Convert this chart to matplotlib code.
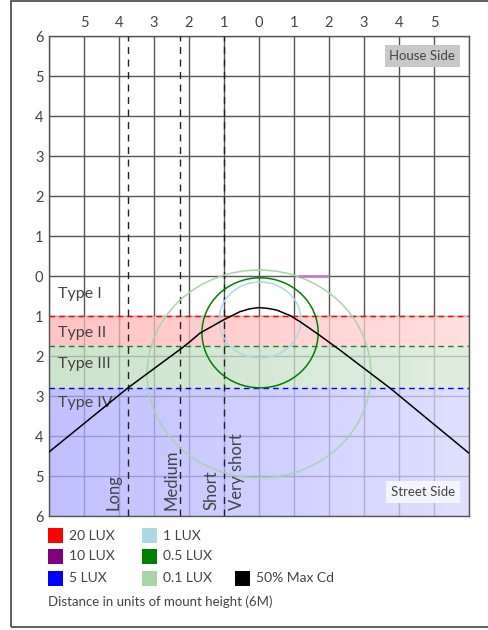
import numpy as np
import matplotlib
matplotlib.use("Agg")
import matplotlib.pyplot as plt
from matplotlib.patches import Ellipse, Rectangle
from matplotlib.colors import to_rgb

plt.rcParams["font.family"] = ["Lato", "DejaVu Sans"]

INK = "#444444"
GRID = "#555555"

# ── data ─────────────────────────────────────────────────────────────────────
# 50% max candela trace (x: lateral, y: negative = street side)
cd_x = [-6.0, -3.75, -2.17, -1.97, -1.69, -1.02, -0.54, -0.26, 0.0,
        0.25, 0.5, 0.89, 1.17, 1.68, 2.31, 3.74, 6.0]
cd_y = [-4.4, -2.8, -1.78, -1.64, -1.43, -1.1, -0.89, -0.82, -0.79,
        -0.81, -0.85, -0.99, -1.14, -1.45, -1.85, -2.8, -4.43]

# isolux contours: centre x, centre y, width, height
iso_labels = ["0.1 LUX", "0.5 LUX", "1 LUX"]
iso_cx = [0.0, 0.03, 0.03]
iso_cy = [-2.45, -1.42, -1.1]
iso_w = [6.4, 3.32, 2.34]
iso_h = [5.2, 2.75, 1.9]
iso_col = ["#a8d5a8", "#008000", "#add8e6"]

# 10 LUX shows as a short segment on the 0 line
lux10_x = [1.1, 2.0]
lux10_y = [0.0, 0.0]

# lateral light distribution bands (top, bottom)
band_names = ["Type I", "Type II", "Type III", "Type IV"]
band_top = [0.0, -1.0, -1.75, -2.8]
band_bot = [-1.0, -1.75, -2.8, -6.0]
band_line = [None, "#ff0000", "#2a7a2a", "#0000ff"]
band_left = [None, "#ffc4c4", "#cce4cc", "#c0c0ff"]
band_right = [None, "#ffe0e0", "#e0eee0", "#e0e0ff"]
band_text_y = [-0.45, -1.42, -2.2, -3.17]

# longitudinal classification boundaries
vert_x = [-3.75, -2.25, -1.0]
vert_names = ["Long", "Medium", "Short", "Very short"]
vert_text_x = [-4.15, -2.5, -1.35, -0.62]

ticks = list(range(-6, 7))

leg_labels = ["20 LUX", "10 LUX", "5 LUX", "1 LUX", "0.5 LUX", "0.1 LUX",
              "50% Max Cd"]
leg_colors = ["#ff0000", "#800080", "#0000ff", "#add8e6", "#008000",
              "#a8d5a8", "#000000"]
leg_col = [0, 0, 0, 1, 1, 1, 2]
leg_row = [0, 1, 2, 0, 1, 2, 2]

# ── figure ───────────────────────────────────────────────────────────────────
W, H = 489, 630
fig = plt.figure(figsize=(W / 100, H / 100), dpi=100)
ax = fig.add_axes([49 / W, 1 - 516 / H, 420 / W, 480 / H])
ax.set_xlim(-6, 6)
ax.set_ylim(-6, 6)

ax.set_xticks(ticks)
ax.set_yticks(ticks)
ax.xaxis.tick_top()
ax.set_xticklabels(["" if abs(t) == 6 else str(abs(t)) for t in ticks])
ax.set_yticklabels([str(abs(t)) for t in ticks])
ax.tick_params(length=0, labelsize=10.5, labelcolor=INK, pad=4)
ax.grid(True, color=GRID, lw=1.0, zorder=1)
ax.set_axisbelow(True)
for s in ax.spines.values():
    s.set_color(GRID)
    s.set_linewidth(1.0)

# bands: semi-opaque fill that fades to the right and dims the grid below
A = 0.75
grad = np.linspace(0, 1, 256)[:, None]
for top, bot, ln, cl, cr in zip(band_top, band_bot, band_line,
                                band_left, band_right):
    if ln is None:
        continue
    fl, fr = np.array(to_rgb(cl)), np.array(to_rgb(cr))
    final = fl[None, :] * (1 - grad) + fr[None, :] * grad
    rgba = np.ones((1, 256, 4))
    rgba[0, :, :3] = np.clip((final - (1 - A)) / A, 0, 1)
    rgba[0, :, 3] = A
    ax.imshow(rgba, extent=(-6, 6, bot, top), aspect="auto",
              interpolation="bilinear", zorder=2)
    ax.axhline(top, color=ln, ls=(0, (4, 3)), lw=1.0, zorder=3)

for name, ty in zip(band_names, band_text_y):
    ax.text(-5.75, ty, name, fontsize=11.5, color=INK, va="center",
            zorder=6)

for vx in vert_x:
    ax.axvline(vx, color="#222222", ls=(0, (5, 4)), lw=1.0, zorder=4)
for name, tx in zip(vert_names, vert_text_x):
    ax.text(tx, -5.85, name, rotation=90, fontsize=12, color=INK,
            ha="center", va="bottom", zorder=6)

for cx, cy, w, h, c in zip(iso_cx, iso_cy, iso_w, iso_h, iso_col):
    ax.add_patch(Ellipse((cx, cy), w, h, fill=False, ec=c, lw=1.1, zorder=5))
ax.plot(lux10_x, lux10_y, color="#c080c0", lw=2, zorder=5,
        solid_capstyle="butt")

ax.plot(cd_x, cd_y, color="black", lw=1.1, zorder=6)

ax.text(5.6, 5.5, "House Side", fontsize=9.5, color=INK, ha="right",
        va="center", zorder=7,
        bbox=dict(boxstyle="square,pad=0.35", fc="#c8c8c8", ec="none"))
ax.text(5.6, -5.4, "Street Side", fontsize=9.5, color=INK, ha="right",
        va="center", zorder=7,
        bbox=dict(boxstyle="square,pad=0.35", fc="#f4f4fc", ec="none"))

# legend below the plot
col_x = [48, 142, 235]
row_y = [535.5, 556.5, 578]
for lab, c, ci, ri in zip(leg_labels, leg_colors, leg_col, leg_row):
    x0, yc = col_x[ci], row_y[ri]
    fig.add_artist(Rectangle((x0 / W, 1 - (yc + 7.5) / H), 15 / W, 15 / H,
                             transform=fig.transFigure, fc=c, ec="none"))
    fig.text((x0 + 21) / W, 1 - yc / H, lab, fontsize=10, color=INK,
             va="center", ha="left")
fig.text(48 / W, 1 - 602 / H, "Distance in units of mount height (6M)",
         fontsize=9.5, color=INK, va="center", ha="left")

# outer frame
fig.add_artist(Rectangle((11 / W, 3 / H), 1.0, 1 - 4 / H,
                         transform=fig.transFigure, fill=False,
                         ec="#444444", lw=1.2))

fig.savefig("out.png", dpi=100)
